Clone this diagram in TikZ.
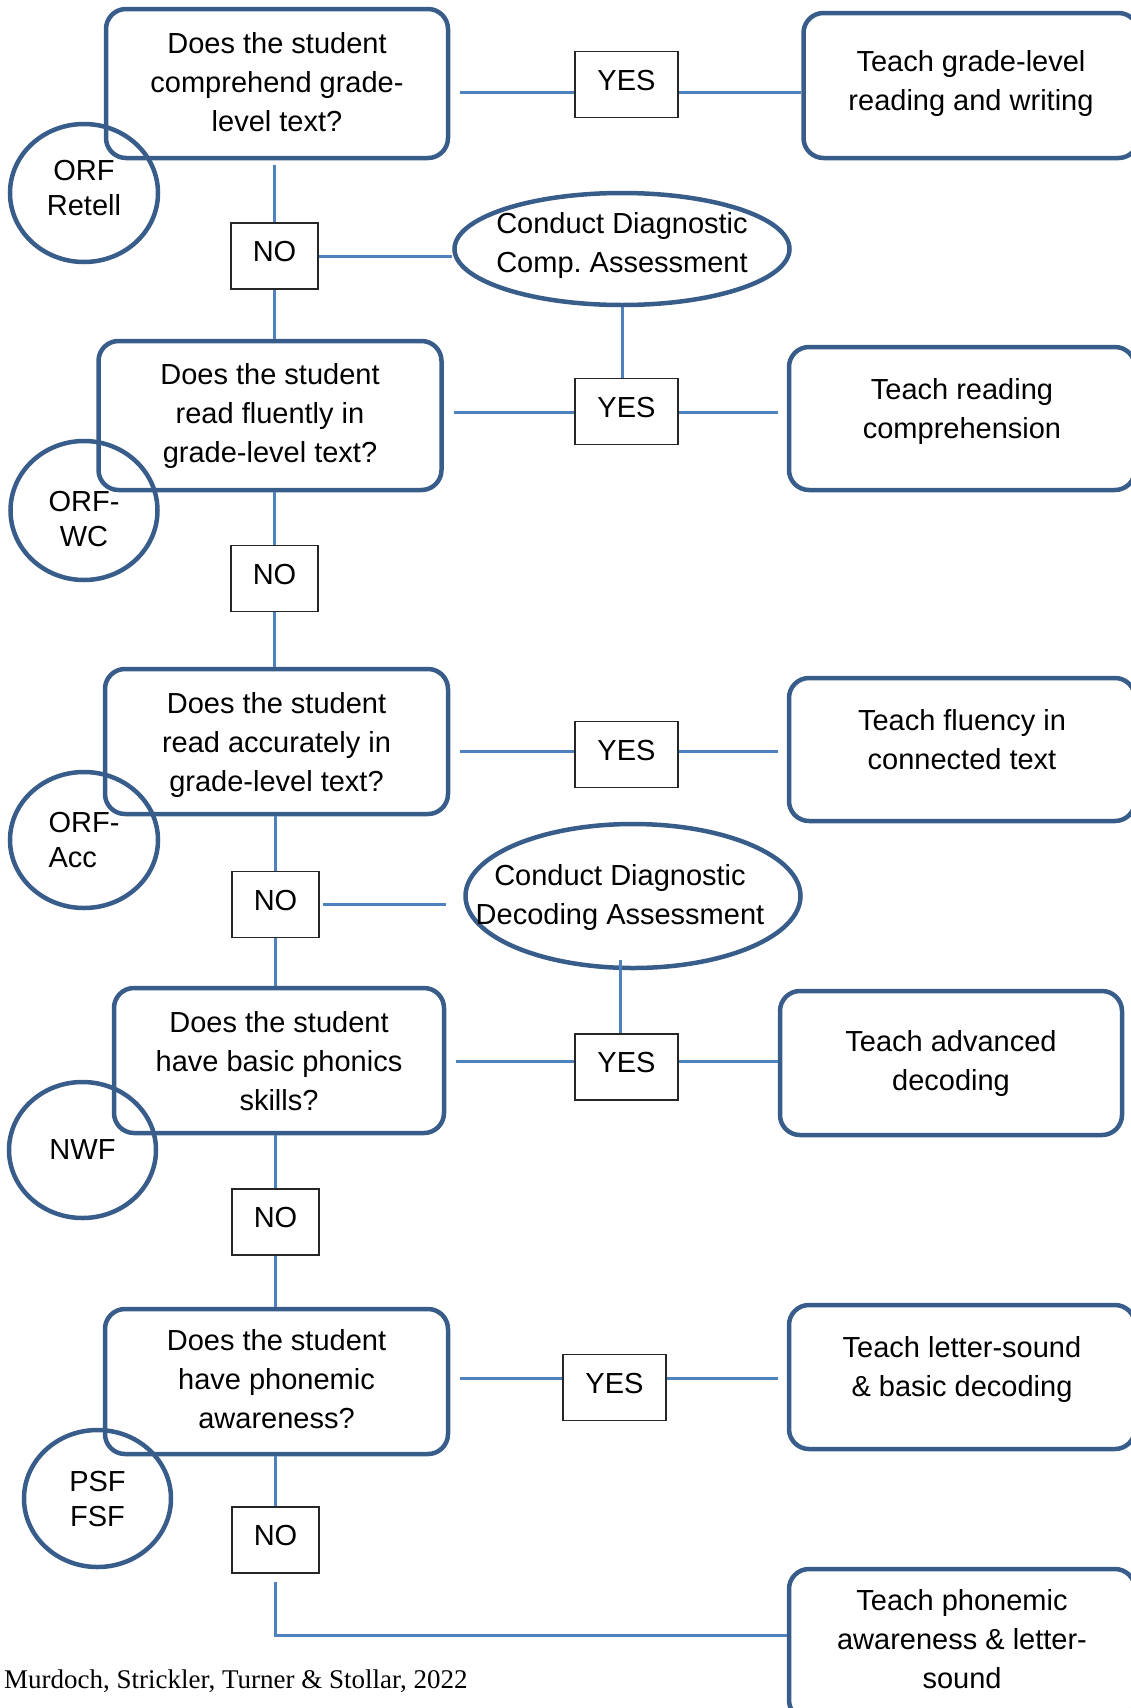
\documentclass[tikz,border=0pt]{standalone}
\usepackage{fontspec}
\setmainfont{Liberation Sans}
\newfontfamily\citefont{Liberation Serif}
\usetikzlibrary{shapes.geometric}
\definecolor{shapeblue}{HTML}{385D8A}
\definecolor{linkblue}{HTML}{4F81BD}
\newcommand{\flowfont}{\fontsize{29}{39}\selectfont}
\newcommand{\roundfont}{\fontsize{29}{35}\selectfont}
\frenchspacing

\begin{document}
\begin{tikzpicture}[x=1pt, y=-1pt,
    question/.style={draw=shapeblue, line width=4.5pt, rounded corners=20pt, inner sep=0pt, align=center, font=\flowfont},
    answer/.style={draw=black!85, line width=1.5pt, minimum height=66pt, inner sep=0pt, text height=21pt, text depth=10pt, font=\flowfont},
    yesbox/.style={answer, minimum width=103pt},
    nobox/.style={answer, minimum width=87pt},
    measure/.style={draw=shapeblue, line width=4.5pt, ellipse, inner sep=0pt, align=center, font=\roundfont},
    diag/.style={draw=shapeblue, line width=4.5pt, ellipse, inner sep=0pt},
    diagtext/.style={align=center, inner sep=0pt, font=\flowfont},
    link/.style={draw=linkblue, line width=3pt}]
        \useasboundingbox (0,0) rectangle (1130,1708);

        % Question boxes
        \node[question, minimum width=342pt, minimum height=149pt, text depth=4pt] (q1) at (277,83.5) {Does the student\\comprehend grade-\\level text?};
        \node[question, minimum width=343pt, minimum height=149pt] (q2) at (270,415.5) {Does the student\\read fluently in\\grade-level text?};
        \node[question, minimum width=343pt, minimum height=145pt, text depth=-5pt] (q3) at (276.5,741.5) {Does the student\\read accurately in\\grade-level text?};
        \node[question, minimum width=330pt, minimum height=145pt, text depth=-9pt] (q4) at (279,1060.5) {Does the student\\have basic phonics\\skills?};
        \node[question, minimum width=343pt, minimum height=145pt, text depth=6pt] (q5) at (276.5,1381.5) {Does the student\\have phonemic\\awareness?};

        % Teaching boxes
        \node[question, minimum width=335pt, minimum height=145pt, text depth=10pt] (t1) at (971,85.5) {Teach grade-level\\reading and writing};
        \node[question, minimum width=346pt, minimum height=143pt, text depth=20pt] (t2) at (962,418.5) {Teach reading\\comprehension};
        \node[question, minimum width=346pt, minimum height=143pt, text depth=20pt] (t3) at (962,749.5) {Teach fluency in\\connected text};
        \node[question, minimum width=342pt, minimum height=144pt] (t4) at (951,1063) {Teach advanced\\decoding};
        \node[question, minimum width=346pt, minimum height=144pt, text depth=21pt] (t5) at (962,1377) {Teach letter-sound\\\& basic decoding};
        \node[question, minimum width=346pt, minimum height=151pt, text depth=11pt] (t6) at (962,1644.5) {Teach phonemic\\awareness \& letter-\\sound};

        % YES / NO boxes
        \node[yesbox] (y1) at (626.5,84.5) {YES};
        \node[yesbox] (y2) at (626.5,411.5) {YES};
        \node[yesbox] (y3) at (626.5,754.5) {YES};
        \node[yesbox] (y4) at (626.5,1067) {YES};
        \node[yesbox] (y5) at (614.5,1387.5) {YES};
        \node[nobox] (n1) at (274.5,256) {NO};
        \node[nobox] (n2) at (274.5,578.5) {NO};
        \node[nobox] (n3) at (275.5,904.5) {NO};
        \node[nobox] (n4) at (275.5,1222) {NO};
        \node[nobox] (n5) at (275.5,1540) {NO};

        % Measures
        \node[measure, minimum width=148pt, minimum height=138pt, text depth=10pt] (m1) at (84,193) {ORF\\Retell};
        \node[measure, minimum width=147pt, minimum height=139pt] (m2) at (84,510.5) {\rule{0pt}{38pt}ORF-\\WC};
        \node[measure, minimum width=148pt, minimum height=136pt, align=left] (m3) at (84,840) {ORF-\\Acc};
        \node[measure, minimum width=147pt, minimum height=136pt] (m4) at (82.5,1150) {NWF};
        \node[measure, minimum width=147pt, minimum height=137pt] (m5) at (97.5,1498.5) {PSF\\FSF};

        % Diagnostic assessments
        \node[diag, minimum width=335pt, minimum height=112pt] (d1) at (622,249) {};
        \node[diagtext] (d1text) at (622,245) {Conduct Diagnostic\\Comp. Assessment};
        \node[diag, minimum width=335pt, minimum height=144pt] (d2) at (633,896) {};
        \node[diagtext] (d2text) at (620,897) {Conduct Diagnostic\\Decoding Assessment};

        % Yes rows
        \coordinate (row1) at (0,92.6);
        \coordinate (row2) at (0,412);
        \coordinate (row3) at (0,751);
        \coordinate (row4) at (0,1061);
        \coordinate (row5) at (0,1378.5);
        \draw[link, shorten <=10pt] (q1.east |- row1) -- (y1.west |- row1);
        \draw[link] (y1.east |- row1) -- (t1.west |- row1);
        \draw[link, shorten <=10pt] (q2.east |- row2) -- (y2.west |- row2);
        \draw[link, shorten >=9pt] (y2.east |- row2) -- (t2.west |- row2);
        \draw[link, shorten <=10pt] (q3.east |- row3) -- (y3.west |- row3);
        \draw[link, shorten >=9pt] (y3.east |- row3) -- (t3.west |- row3);
        \draw[link, shorten <=10pt] (q4.east |- row4) -- (y4.west |- row4);
        \draw[link] (y4.east |- row4) -- (t4.west |- row4);
        \draw[link, shorten <=10pt] (q5.east |- row5) -- (y5.west |- row5);
        \draw[link, shorten >=9pt] (y5.east |- row5) -- (t5.west |- row5);

        % No spine
        \draw[link, shorten <=5pt] (n1.north |- q1.south) -- (n1.north);
        \draw[link] (n1.south) -- (n1.south |- q2.north);
        \draw[link] (n2.north |- q2.south) -- (n2.north);
        \draw[link] (n2.south) -- (n2.south |- q3.north);
        \draw[link] (n3.north |- q3.south) -- (n3.north);
        \draw[link] (n3.south) -- (n3.south |- q4.north);
        \draw[link] (n4.north |- q4.south) -- (n4.north);
        \draw[link] (n4.south) -- (n4.south |- q5.north);
        \draw[link] (n5.north |- q5.south) -- (n5.north);
        \coordinate (bend) at (275.5,1635);
        \draw[link, shorten <=8pt] (n5.south) -- (bend) -- (bend -| t6.west);

        % Diagnostic links
        \draw[link] (n1.east) -- (n1.east -| d1.west);
        \draw[link] (d1.south) -- (d1.south |- y2.north);
        \draw[link, shorten <=3pt, shorten >=17pt] (n3.east) -- (n3.east -| d2.west);
        \draw[link, shorten <=-10pt] (d2text |- d2.south) -- (d2text |- y4.north);

        % Credit
        \node[anchor=west, inner sep=0pt, font=\citefont\fontsize{27}{30}\selectfont] (credit) at (4,1681) {Murdoch, Strickler, Turner \& Stollar, 2022};
    \end{tikzpicture}
\end{document}
